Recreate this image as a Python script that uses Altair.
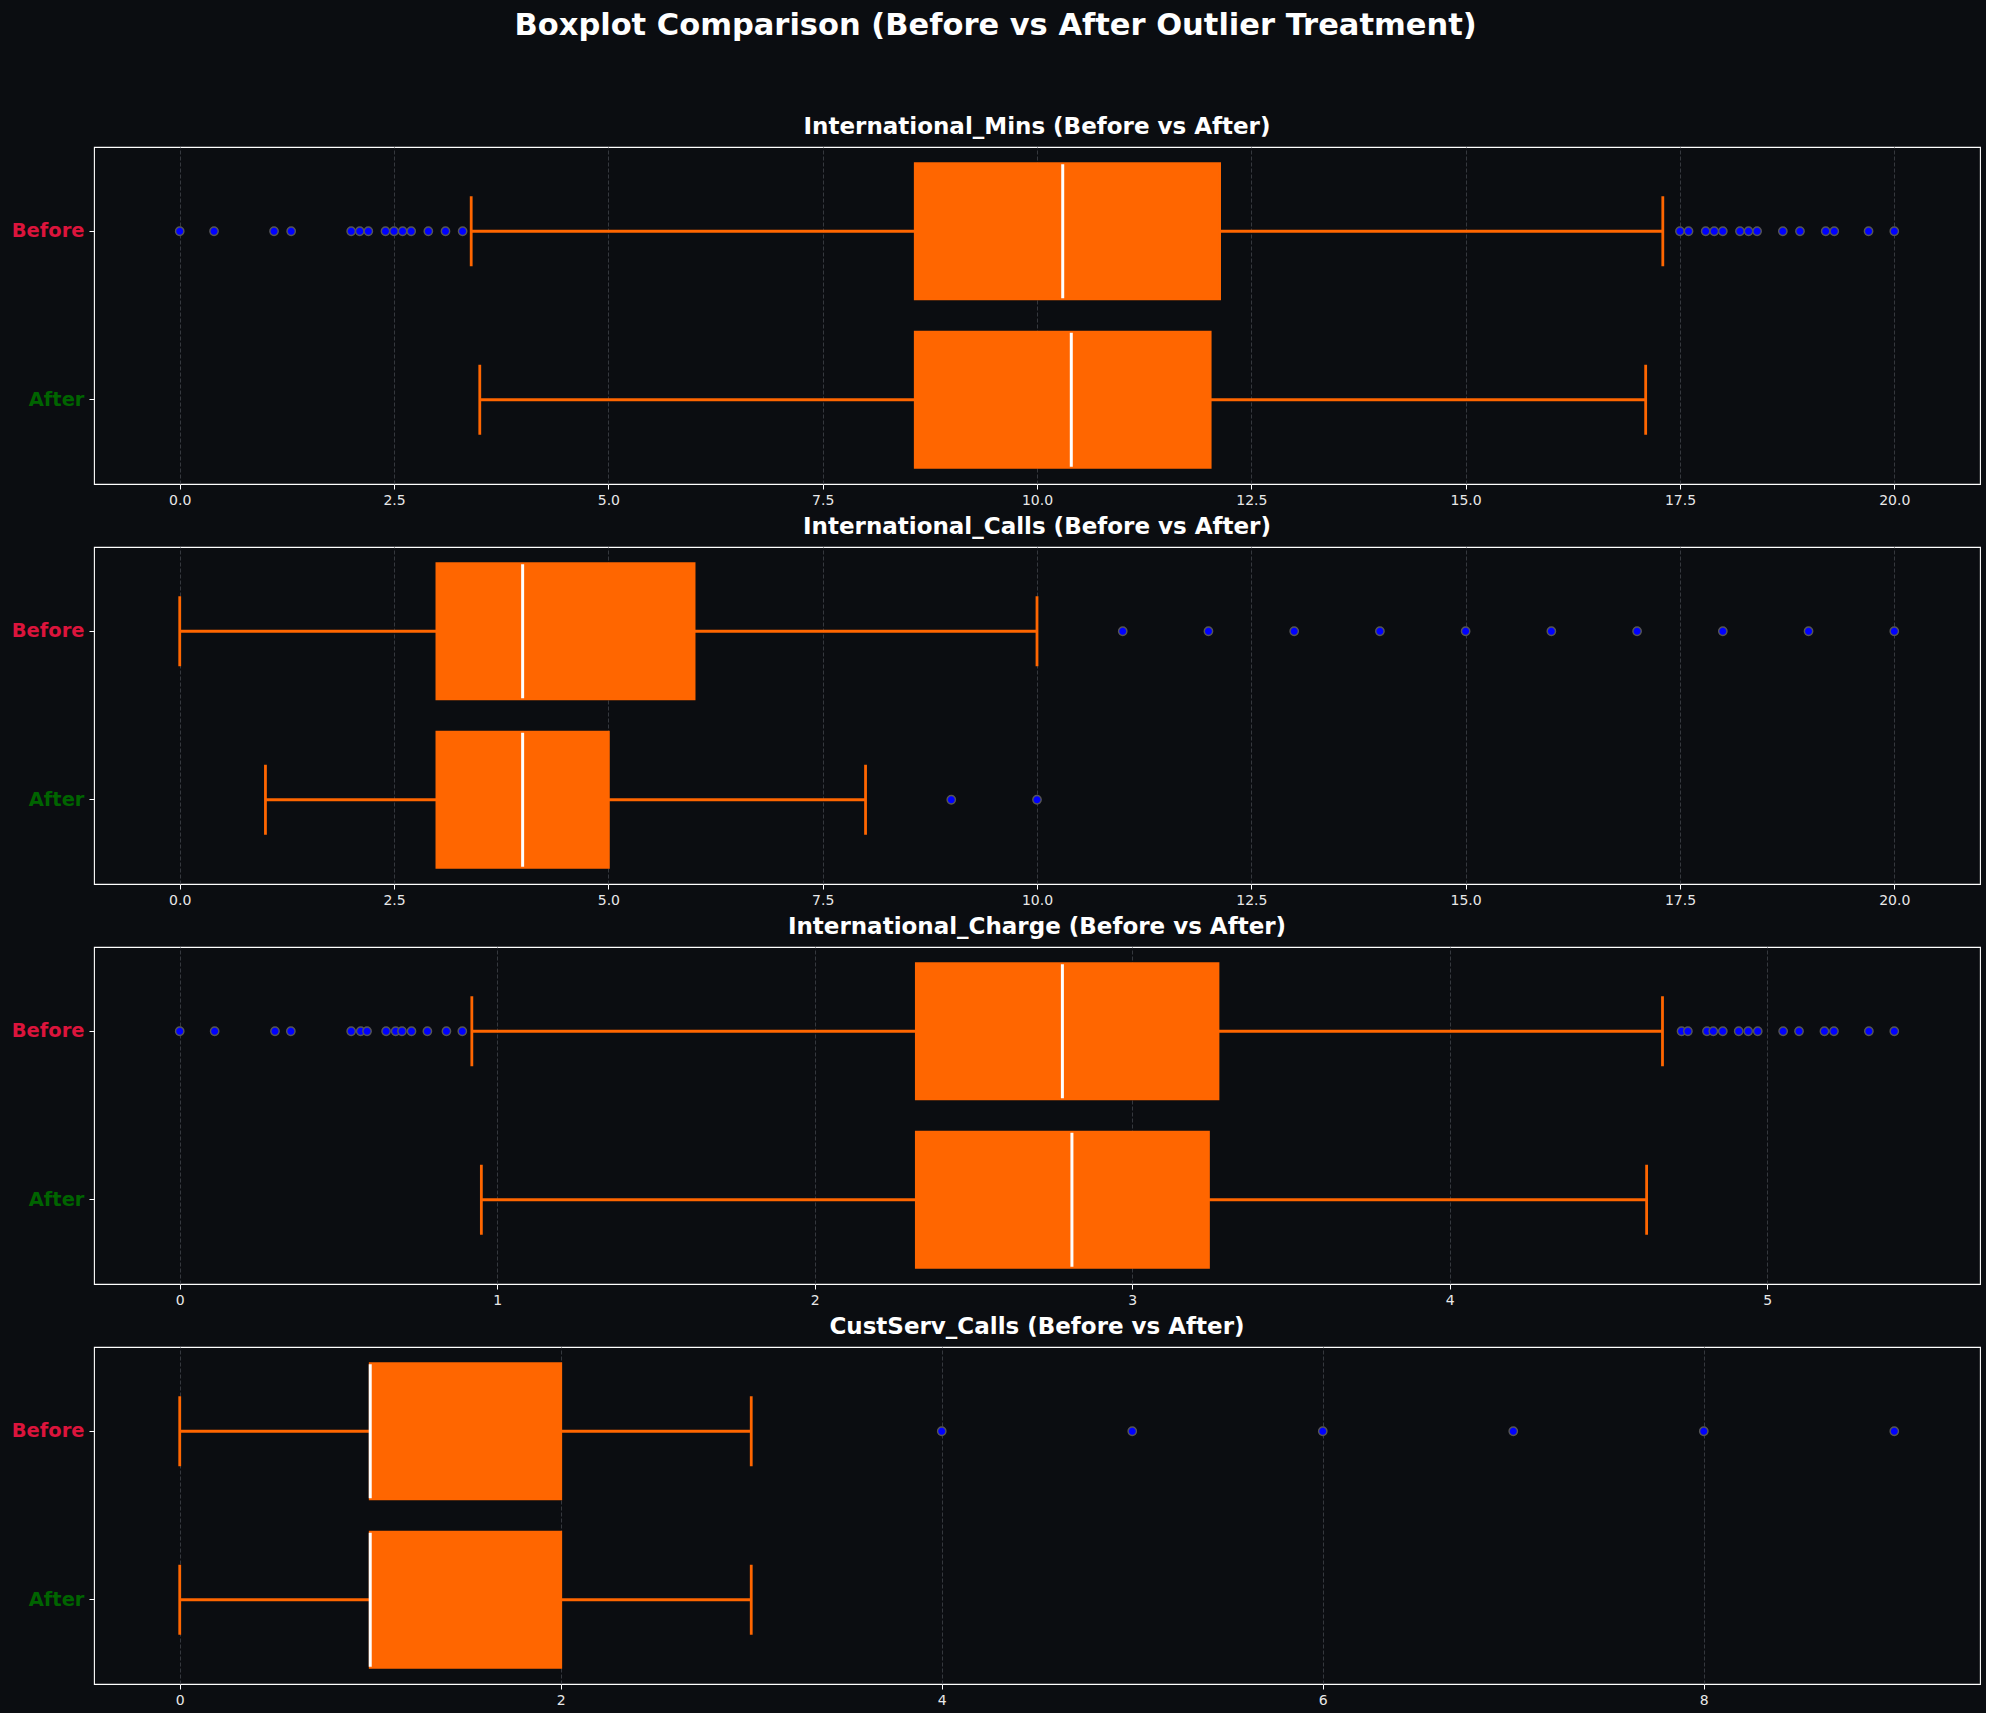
import altair as alt
import pandas as pd

GROUPS = ["Before", "After"]

# International_Mins
mins_lo = [3.4, 3.5]
mins_q1 = [8.58, 8.58]
mins_med = [10.3, 10.4]
mins_q3 = [12.13, 12.02]
mins_hi = [17.3, 17.1]
mins_out_before = [0.0, 0.4, 1.1, 1.3, 2.0, 2.1, 2.2, 2.4, 2.5, 2.6, 2.7, 2.9, 3.1, 3.3,
                   17.5, 17.6, 17.8, 17.9, 18.0, 18.2, 18.3, 18.4, 18.7, 18.9, 19.2, 19.3, 19.7, 20.0]
mins_out_after = []

# International_Calls
calls_lo = [0, 1]
calls_q1 = [3, 3]
calls_med = [4, 4]
calls_q3 = [6, 5]
calls_hi = [10, 8]
calls_out_before = [11, 12, 13, 14, 15, 16, 17, 18, 19, 20]
calls_out_after = [9, 10]

# International_Charge
charge_lo = [0.92, 0.95]
charge_q1 = [2.32, 2.32]
charge_med = [2.78, 2.81]
charge_q3 = [3.27, 3.24]
charge_hi = [4.67, 4.62]
charge_out_before = [0.0, 0.11, 0.30, 0.35, 0.54, 0.57, 0.59, 0.65, 0.68, 0.70, 0.73, 0.78, 0.84, 0.89,
                     4.73, 4.75, 4.81, 4.83, 4.86, 4.91, 4.94, 4.97, 5.05, 5.10, 5.18, 5.21, 5.32, 5.40]
charge_out_after = []

# CustServ_Calls
cs_lo = [0, 0]
cs_q1 = [1, 1]
cs_med = [1, 1]
cs_q3 = [2, 2]
cs_hi = [3, 3]
cs_out_before = [4, 5, 6, 7, 8, 9]
cs_out_after = []

ticks_20 = [0, 2.5, 5, 7.5, 10, 12.5, 15, 17.5, 20]
ticks_charge = [0, 1, 2, 3, 4, 5]
ticks_cs = [0, 2, 4, 6, 8]

BG = "#0b0d11"
ORANGE = "#FF6600"
FONT = "DejaVu Sans"


def panel(title, lo, q1, med, q3, hi, out_before, out_after, domain, ticks, fmt):
    summ = pd.DataFrame({"group": GROUPS, "lo": lo, "q1": q1, "med": med, "q3": q3, "hi": hi})
    outs = pd.DataFrame({
        "group": ["Before"] * len(out_before) + ["After"] * len(out_after),
        "value": list(out_before) + list(out_after),
    })
    xs = alt.Scale(domain=domain, nice=False, zero=False)
    ys = alt.Scale(domain=GROUPS, paddingInner=0, paddingOuter=0)
    xaxis = alt.Axis(values=ticks, format=fmt, title=None, grid=True, gridDash=[4, 2],
                     gridColor="#3a3d44", gridWidth=0.9, domain=False, tickColor="white",
                     tickSize=5, tickWidth=1, labelColor="#e8e8e8", labelFontSize=14,
                     labelPadding=4, labelFont=FONT)
    yaxis = alt.Axis(title=None, labelFontSize=19.5, labelFontWeight="bold",
                     labelColor={"condition": {"test": "datum.value == 'Before'", "value": "#DC143C"},
                                 "value": "#006400"},
                     domain=False, tickColor="white", tickSize=5, tickWidth=1, grid=False,
                     labelPadding=5, labelFont=FONT)
    y = alt.Y("group:N", scale=ys, axis=yaxis, sort=GROUPS)
    base = alt.Chart(summ)
    whisk = base.mark_rule(color=ORANGE, strokeWidth=2.8).encode(
        x=alt.X("lo:Q", scale=xs, axis=xaxis), x2="hi:Q", y=y)
    box = base.mark_bar(color=ORANGE, size=135, stroke=ORANGE, strokeWidth=2.8).encode(
        x=alt.X("q1:Q", scale=xs), x2="q3:Q", y=y)
    medl = base.mark_tick(color="white", size=134, thickness=3, opacity=1).encode(
        x=alt.X("med:Q", scale=xs), y=y)
    caps = base.transform_fold(["lo", "hi"], as_=["k", "v"]).mark_tick(
        color=ORANGE, size=70, thickness=2.8, opacity=1).encode(x=alt.X("v:Q", scale=xs), y=y)
    pts = alt.Chart(outs).mark_circle(color="#0000FF", stroke="#555555", strokeWidth=1.4,
                                      size=70, opacity=1).encode(
        x=alt.X("value:Q", scale=xs), y=y)
    return alt.layer(whisk, box, medl, caps, pts).properties(
        width=1886, height=337,
        title=alt.TitleParams(title, fontSize=23, fontWeight="bold", color="white", font=FONT,
                              anchor="middle", offset=8))


p1 = panel("International_Mins (Before vs After)", mins_lo, mins_q1, mins_med, mins_q3, mins_hi,
           mins_out_before, mins_out_after, [-1, 21], ticks_20, ".1f")
p2 = panel("International_Calls (Before vs After)", calls_lo, calls_q1, calls_med, calls_q3, calls_hi,
           calls_out_before, calls_out_after, [-1, 21], ticks_20, ".1f")
p3 = panel("International_Charge (Before vs After)", charge_lo, charge_q1, charge_med, charge_q3,
           charge_hi, charge_out_before, charge_out_after, [-0.27, 5.67], ticks_charge, "d")
p4 = panel("CustServ_Calls (Before vs After)", cs_lo, cs_q1, cs_med, cs_q3, cs_hi,
           cs_out_before, cs_out_after, [-0.45, 9.45], ticks_cs, "d")

chart = alt.vconcat(p1, p2, p3, p4, spacing=7).properties(
    title=alt.TitleParams("Boxplot Comparison (Before vs After Outlier Treatment)", fontSize=30.5,
                          fontWeight="bold", color="white", font=FONT, anchor="middle", offset=74),
    padding={"left": 10, "top": 10, "right": 5, "bottom": 5},
    background=BG,
).configure_view(stroke="white", strokeWidth=1.1, fill=BG)

chart.save("out.html", embed_options={"renderer": "svg", "actions": False})
